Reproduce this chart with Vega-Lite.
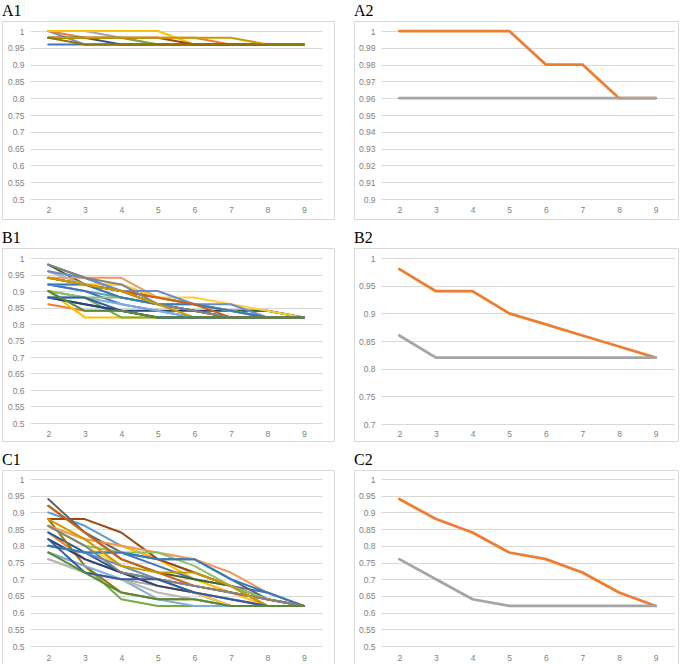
{
  "$schema": "https://vega.github.io/schema/vega-lite/v6.json",
  "padding": {"left": 1, "top": 2, "right": 0, "bottom": 0},
  "background": "white",
  "config": {
    "view": {"stroke": "#d9d9d9", "strokeWidth": 1},
    "title": {"font": "Liberation Serif", "fontSize": 16, "fontWeight": "normal", "anchor": "start", "offset": 2, "color": "#000000"},
    "axis": {"domain": false, "ticks": false, "tickSize": 0, "labelFont": "Liberation Sans", "labelFontSize": 8.5, "labelColor": "#7f7f7f", "gridColor": "#d9d9d9", "gridWidth": 1, "title": null, "labelPadding": 0},
    "line": {"strokeJoin": "round", "strokeCap": "round"}
  },
  "datasets": {
    "a1": [
      {"s":"S01","x":2,"v":1.00},{"s":"S01","x":3,"v":0.96},{"s":"S01","x":4,"v":0.96},{"s":"S01","x":5,"v":0.96},{"s":"S01","x":6,"v":0.96},{"s":"S01","x":7,"v":0.96},{"s":"S01","x":8,"v":0.96},{"s":"S01","x":9,"v":0.96},
      {"s":"S02","x":2,"v":1.00},{"s":"S02","x":3,"v":0.98},{"s":"S02","x":4,"v":0.98},{"s":"S02","x":5,"v":0.98},{"s":"S02","x":6,"v":0.98},{"s":"S02","x":7,"v":0.96},{"s":"S02","x":8,"v":0.96},{"s":"S02","x":9,"v":0.96},
      {"s":"S03","x":2,"v":1.00},{"s":"S03","x":3,"v":1.00},{"s":"S03","x":4,"v":0.98},{"s":"S03","x":5,"v":0.96},{"s":"S03","x":6,"v":0.96},{"s":"S03","x":7,"v":0.96},{"s":"S03","x":8,"v":0.96},{"s":"S03","x":9,"v":0.96},
      {"s":"S04","x":2,"v":1.00},{"s":"S04","x":3,"v":1.00},{"s":"S04","x":4,"v":1.00},{"s":"S04","x":5,"v":1.00},{"s":"S04","x":6,"v":0.96},{"s":"S04","x":7,"v":0.96},{"s":"S04","x":8,"v":0.96},{"s":"S04","x":9,"v":0.96},
      {"s":"S05","x":2,"v":0.96},{"s":"S05","x":3,"v":0.96},{"s":"S05","x":4,"v":0.96},{"s":"S05","x":5,"v":0.96},{"s":"S05","x":6,"v":0.96},{"s":"S05","x":7,"v":0.96},{"s":"S05","x":8,"v":0.96},{"s":"S05","x":9,"v":0.96},
      {"s":"S06","x":2,"v":0.98},{"s":"S06","x":3,"v":0.98},{"s":"S06","x":4,"v":0.98},{"s":"S06","x":5,"v":0.96},{"s":"S06","x":6,"v":0.96},{"s":"S06","x":7,"v":0.96},{"s":"S06","x":8,"v":0.96},{"s":"S06","x":9,"v":0.96},
      {"s":"S07","x":2,"v":0.98},{"s":"S07","x":3,"v":0.98},{"s":"S07","x":4,"v":0.96},{"s":"S07","x":5,"v":0.96},{"s":"S07","x":6,"v":0.96},{"s":"S07","x":7,"v":0.96},{"s":"S07","x":8,"v":0.96},{"s":"S07","x":9,"v":0.96},
      {"s":"S08","x":2,"v":0.98},{"s":"S08","x":3,"v":0.98},{"s":"S08","x":4,"v":0.98},{"s":"S08","x":5,"v":0.98},{"s":"S08","x":6,"v":0.96},{"s":"S08","x":7,"v":0.96},{"s":"S08","x":8,"v":0.96},{"s":"S08","x":9,"v":0.96},
      {"s":"S09","x":2,"v":0.98},{"s":"S09","x":3,"v":0.98},{"s":"S09","x":4,"v":0.98},{"s":"S09","x":5,"v":0.98},{"s":"S09","x":6,"v":0.98},{"s":"S09","x":7,"v":0.98},{"s":"S09","x":8,"v":0.96},{"s":"S09","x":9,"v":0.96},
      {"s":"S10","x":2,"v":0.98},{"s":"S10","x":3,"v":0.96},{"s":"S10","x":4,"v":0.96},{"s":"S10","x":5,"v":0.96},{"s":"S10","x":6,"v":0.96},{"s":"S10","x":7,"v":0.96},{"s":"S10","x":8,"v":0.96},{"s":"S10","x":9,"v":0.96}
    ],
    "a2": [
      {"s":"max","x":2,"v":1.00},{"s":"max","x":3,"v":1.00},{"s":"max","x":4,"v":1.00},{"s":"max","x":5,"v":1.00},{"s":"max","x":6,"v":0.98},{"s":"max","x":7,"v":0.98},{"s":"max","x":8,"v":0.96},{"s":"max","x":9,"v":0.96},
      {"s":"min","x":2,"v":0.96},{"s":"min","x":3,"v":0.96},{"s":"min","x":4,"v":0.96},{"s":"min","x":5,"v":0.96},{"s":"min","x":6,"v":0.96},{"s":"min","x":7,"v":0.96},{"s":"min","x":8,"v":0.96},{"s":"min","x":9,"v":0.96}
    ],
    "b1": [
      {"s":"S01","x":2,"v":0.92},{"s":"S01","x":3,"v":0.90},{"s":"S01","x":4,"v":0.88},{"s":"S01","x":5,"v":0.86},{"s":"S01","x":6,"v":0.84},{"s":"S01","x":7,"v":0.82},{"s":"S01","x":8,"v":0.82},{"s":"S01","x":9,"v":0.82},
      {"s":"S02","x":2,"v":0.86},{"s":"S02","x":3,"v":0.84},{"s":"S02","x":4,"v":0.84},{"s":"S02","x":5,"v":0.82},{"s":"S02","x":6,"v":0.82},{"s":"S02","x":7,"v":0.82},{"s":"S02","x":8,"v":0.82},{"s":"S02","x":9,"v":0.82},
      {"s":"S03","x":2,"v":0.96},{"s":"S03","x":3,"v":0.92},{"s":"S03","x":4,"v":0.90},{"s":"S03","x":5,"v":0.86},{"s":"S03","x":6,"v":0.84},{"s":"S03","x":7,"v":0.82},{"s":"S03","x":8,"v":0.82},{"s":"S03","x":9,"v":0.82},
      {"s":"S04","x":2,"v":0.90},{"s":"S04","x":3,"v":0.82},{"s":"S04","x":4,"v":0.82},{"s":"S04","x":5,"v":0.82},{"s":"S04","x":6,"v":0.82},{"s":"S04","x":7,"v":0.82},{"s":"S04","x":8,"v":0.82},{"s":"S04","x":9,"v":0.82},
      {"s":"S05","x":2,"v":0.92},{"s":"S05","x":3,"v":0.90},{"s":"S05","x":4,"v":0.86},{"s":"S05","x":5,"v":0.84},{"s":"S05","x":6,"v":0.82},{"s":"S05","x":7,"v":0.82},{"s":"S05","x":8,"v":0.82},{"s":"S05","x":9,"v":0.82},
      {"s":"S06","x":2,"v":0.90},{"s":"S06","x":3,"v":0.88},{"s":"S06","x":4,"v":0.82},{"s":"S06","x":5,"v":0.82},{"s":"S06","x":6,"v":0.82},{"s":"S06","x":7,"v":0.82},{"s":"S06","x":8,"v":0.82},{"s":"S06","x":9,"v":0.82},
      {"s":"S07","x":2,"v":0.88},{"s":"S07","x":3,"v":0.86},{"s":"S07","x":4,"v":0.84},{"s":"S07","x":5,"v":0.82},{"s":"S07","x":6,"v":0.82},{"s":"S07","x":7,"v":0.82},{"s":"S07","x":8,"v":0.82},{"s":"S07","x":9,"v":0.82},
      {"s":"S08","x":2,"v":0.94},{"s":"S08","x":3,"v":0.92},{"s":"S08","x":4,"v":0.90},{"s":"S08","x":5,"v":0.88},{"s":"S08","x":6,"v":0.86},{"s":"S08","x":7,"v":0.84},{"s":"S08","x":8,"v":0.82},{"s":"S08","x":9,"v":0.82},
      {"s":"S09","x":2,"v":0.98},{"s":"S09","x":3,"v":0.94},{"s":"S09","x":4,"v":0.90},{"s":"S09","x":5,"v":0.86},{"s":"S09","x":6,"v":0.84},{"s":"S09","x":7,"v":0.82},{"s":"S09","x":8,"v":0.82},{"s":"S09","x":9,"v":0.82},
      {"s":"S10","x":2,"v":0.94},{"s":"S10","x":3,"v":0.92},{"s":"S10","x":4,"v":0.88},{"s":"S10","x":5,"v":0.86},{"s":"S10","x":6,"v":0.84},{"s":"S10","x":7,"v":0.82},{"s":"S10","x":8,"v":0.82},{"s":"S10","x":9,"v":0.82},
      {"s":"S11","x":2,"v":0.88},{"s":"S11","x":3,"v":0.86},{"s":"S11","x":4,"v":0.84},{"s":"S11","x":5,"v":0.84},{"s":"S11","x":6,"v":0.84},{"s":"S11","x":7,"v":0.84},{"s":"S11","x":8,"v":0.84},{"s":"S11","x":9,"v":0.82},
      {"s":"S12","x":2,"v":0.98},{"s":"S12","x":3,"v":0.92},{"s":"S12","x":4,"v":0.90},{"s":"S12","x":5,"v":0.88},{"s":"S12","x":6,"v":0.86},{"s":"S12","x":7,"v":0.84},{"s":"S12","x":8,"v":0.84},{"s":"S12","x":9,"v":0.82},
      {"s":"S13","x":2,"v":0.88},{"s":"S13","x":3,"v":0.88},{"s":"S13","x":4,"v":0.86},{"s":"S13","x":5,"v":0.84},{"s":"S13","x":6,"v":0.82},{"s":"S13","x":7,"v":0.82},{"s":"S13","x":8,"v":0.82},{"s":"S13","x":9,"v":0.82},
      {"s":"S14","x":2,"v":0.94},{"s":"S14","x":3,"v":0.94},{"s":"S14","x":4,"v":0.94},{"s":"S14","x":5,"v":0.88},{"s":"S14","x":6,"v":0.86},{"s":"S14","x":7,"v":0.84},{"s":"S14","x":8,"v":0.82},{"s":"S14","x":9,"v":0.82},
      {"s":"S15","x":2,"v":0.96},{"s":"S15","x":3,"v":0.92},{"s":"S15","x":4,"v":0.92},{"s":"S15","x":5,"v":0.88},{"s":"S15","x":6,"v":0.86},{"s":"S15","x":7,"v":0.84},{"s":"S15","x":8,"v":0.82},{"s":"S15","x":9,"v":0.82},
      {"s":"S16","x":2,"v":0.92},{"s":"S16","x":3,"v":0.92},{"s":"S16","x":4,"v":0.92},{"s":"S16","x":5,"v":0.88},{"s":"S16","x":6,"v":0.88},{"s":"S16","x":7,"v":0.86},{"s":"S16","x":8,"v":0.84},{"s":"S16","x":9,"v":0.82},
      {"s":"S17","x":2,"v":0.96},{"s":"S17","x":3,"v":0.94},{"s":"S17","x":4,"v":0.90},{"s":"S17","x":5,"v":0.90},{"s":"S17","x":6,"v":0.86},{"s":"S17","x":7,"v":0.86},{"s":"S17","x":8,"v":0.82},{"s":"S17","x":9,"v":0.82},
      {"s":"S18","x":2,"v":0.90},{"s":"S18","x":3,"v":0.88},{"s":"S18","x":4,"v":0.88},{"s":"S18","x":5,"v":0.86},{"s":"S18","x":6,"v":0.86},{"s":"S18","x":7,"v":0.84},{"s":"S18","x":8,"v":0.82},{"s":"S18","x":9,"v":0.82},
      {"s":"S19","x":2,"v":0.92},{"s":"S19","x":3,"v":0.92},{"s":"S19","x":4,"v":0.88},{"s":"S19","x":5,"v":0.86},{"s":"S19","x":6,"v":0.86},{"s":"S19","x":7,"v":0.84},{"s":"S19","x":8,"v":0.82},{"s":"S19","x":9,"v":0.82},
      {"s":"S20","x":2,"v":0.94},{"s":"S20","x":3,"v":0.92},{"s":"S20","x":4,"v":0.90},{"s":"S20","x":5,"v":0.88},{"s":"S20","x":6,"v":0.86},{"s":"S20","x":7,"v":0.82},{"s":"S20","x":8,"v":0.82},{"s":"S20","x":9,"v":0.82},
      {"s":"S21","x":2,"v":0.98},{"s":"S21","x":3,"v":0.94},{"s":"S21","x":4,"v":0.92},{"s":"S21","x":5,"v":0.86},{"s":"S21","x":6,"v":0.84},{"s":"S21","x":7,"v":0.82},{"s":"S21","x":8,"v":0.82},{"s":"S21","x":9,"v":0.82},
      {"s":"S22","x":2,"v":0.94},{"s":"S22","x":3,"v":0.92},{"s":"S22","x":4,"v":0.90},{"s":"S22","x":5,"v":0.86},{"s":"S22","x":6,"v":0.82},{"s":"S22","x":7,"v":0.82},{"s":"S22","x":8,"v":0.82},{"s":"S22","x":9,"v":0.82},
      {"s":"S23","x":2,"v":0.88},{"s":"S23","x":3,"v":0.88},{"s":"S23","x":4,"v":0.84},{"s":"S23","x":5,"v":0.82},{"s":"S23","x":6,"v":0.82},{"s":"S23","x":7,"v":0.82},{"s":"S23","x":8,"v":0.82},{"s":"S23","x":9,"v":0.82},
      {"s":"S24","x":2,"v":0.90},{"s":"S24","x":3,"v":0.84},{"s":"S24","x":4,"v":0.84},{"s":"S24","x":5,"v":0.82},{"s":"S24","x":6,"v":0.82},{"s":"S24","x":7,"v":0.82},{"s":"S24","x":8,"v":0.82},{"s":"S24","x":9,"v":0.82}
    ],
    "b2": [
      {"s":"max","x":2,"v":0.98},{"s":"max","x":3,"v":0.94},{"s":"max","x":4,"v":0.94},{"s":"max","x":5,"v":0.90},{"s":"max","x":6,"v":0.88},{"s":"max","x":7,"v":0.86},{"s":"max","x":8,"v":0.84},{"s":"max","x":9,"v":0.82},
      {"s":"min","x":2,"v":0.86},{"s":"min","x":3,"v":0.82},{"s":"min","x":4,"v":0.82},{"s":"min","x":5,"v":0.82},{"s":"min","x":6,"v":0.82},{"s":"min","x":7,"v":0.82},{"s":"min","x":8,"v":0.82},{"s":"min","x":9,"v":0.82}
    ],
    "c1": [
      {"s":"S01","x":2,"v":0.90},{"s":"S01","x":3,"v":0.86},{"s":"S01","x":4,"v":0.80},{"s":"S01","x":5,"v":0.76},{"s":"S01","x":6,"v":0.72},{"s":"S01","x":7,"v":0.68},{"s":"S01","x":8,"v":0.64},{"s":"S01","x":9,"v":0.62},
      {"s":"S02","x":2,"v":0.84},{"s":"S02","x":3,"v":0.76},{"s":"S02","x":4,"v":0.72},{"s":"S02","x":5,"v":0.68},{"s":"S02","x":6,"v":0.66},{"s":"S02","x":7,"v":0.64},{"s":"S02","x":8,"v":0.62},{"s":"S02","x":9,"v":0.62},
      {"s":"S03","x":2,"v":0.76},{"s":"S03","x":3,"v":0.72},{"s":"S03","x":4,"v":0.70},{"s":"S03","x":5,"v":0.68},{"s":"S03","x":6,"v":0.66},{"s":"S03","x":7,"v":0.64},{"s":"S03","x":8,"v":0.62},{"s":"S03","x":9,"v":0.62},
      {"s":"S04","x":2,"v":0.86},{"s":"S04","x":3,"v":0.82},{"s":"S04","x":4,"v":0.80},{"s":"S04","x":5,"v":0.76},{"s":"S04","x":6,"v":0.70},{"s":"S04","x":7,"v":0.66},{"s":"S04","x":8,"v":0.62},{"s":"S04","x":9,"v":0.62},
      {"s":"S05","x":2,"v":0.80},{"s":"S05","x":3,"v":0.78},{"s":"S05","x":4,"v":0.78},{"s":"S05","x":5,"v":0.74},{"s":"S05","x":6,"v":0.70},{"s":"S05","x":7,"v":0.68},{"s":"S05","x":8,"v":0.66},{"s":"S05","x":9,"v":0.62},
      {"s":"S06","x":2,"v":0.78},{"s":"S06","x":3,"v":0.74},{"s":"S06","x":4,"v":0.64},{"s":"S06","x":5,"v":0.62},{"s":"S06","x":6,"v":0.62},{"s":"S06","x":7,"v":0.62},{"s":"S06","x":8,"v":0.62},{"s":"S06","x":9,"v":0.62},
      {"s":"S07","x":2,"v":0.84},{"s":"S07","x":3,"v":0.78},{"s":"S07","x":4,"v":0.72},{"s":"S07","x":5,"v":0.70},{"s":"S07","x":6,"v":0.68},{"s":"S07","x":7,"v":0.66},{"s":"S07","x":8,"v":0.64},{"s":"S07","x":9,"v":0.62},
      {"s":"S08","x":2,"v":0.88},{"s":"S08","x":3,"v":0.88},{"s":"S08","x":4,"v":0.84},{"s":"S08","x":5,"v":0.76},{"s":"S08","x":6,"v":0.72},{"s":"S08","x":7,"v":0.68},{"s":"S08","x":8,"v":0.64},{"s":"S08","x":9,"v":0.62},
      {"s":"S09","x":2,"v":0.94},{"s":"S09","x":3,"v":0.84},{"s":"S09","x":4,"v":0.78},{"s":"S09","x":5,"v":0.76},{"s":"S09","x":6,"v":0.76},{"s":"S09","x":7,"v":0.70},{"s":"S09","x":8,"v":0.64},{"s":"S09","x":9,"v":0.62},
      {"s":"S10","x":2,"v":0.88},{"s":"S10","x":3,"v":0.74},{"s":"S10","x":4,"v":0.66},{"s":"S10","x":5,"v":0.64},{"s":"S10","x":6,"v":0.64},{"s":"S10","x":7,"v":0.62},{"s":"S10","x":8,"v":0.62},{"s":"S10","x":9,"v":0.62},
      {"s":"S11","x":2,"v":0.82},{"s":"S11","x":3,"v":0.76},{"s":"S11","x":4,"v":0.72},{"s":"S11","x":5,"v":0.68},{"s":"S11","x":6,"v":0.66},{"s":"S11","x":7,"v":0.62},{"s":"S11","x":8,"v":0.62},{"s":"S11","x":9,"v":0.62},
      {"s":"S12","x":2,"v":0.92},{"s":"S12","x":3,"v":0.84},{"s":"S12","x":4,"v":0.76},{"s":"S12","x":5,"v":0.72},{"s":"S12","x":6,"v":0.70},{"s":"S12","x":7,"v":0.68},{"s":"S12","x":8,"v":0.62},{"s":"S12","x":9,"v":0.62},
      {"s":"S13","x":2,"v":0.78},{"s":"S13","x":3,"v":0.74},{"s":"S13","x":4,"v":0.70},{"s":"S13","x":5,"v":0.64},{"s":"S13","x":6,"v":0.62},{"s":"S13","x":7,"v":0.62},{"s":"S13","x":8,"v":0.62},{"s":"S13","x":9,"v":0.62},
      {"s":"S14","x":2,"v":0.86},{"s":"S14","x":3,"v":0.82},{"s":"S14","x":4,"v":0.80},{"s":"S14","x":5,"v":0.78},{"s":"S14","x":6,"v":0.76},{"s":"S14","x":7,"v":0.72},{"s":"S14","x":8,"v":0.66},{"s":"S14","x":9,"v":0.62},
      {"s":"S15","x":2,"v":0.76},{"s":"S15","x":3,"v":0.72},{"s":"S15","x":4,"v":0.70},{"s":"S15","x":5,"v":0.66},{"s":"S15","x":6,"v":0.64},{"s":"S15","x":7,"v":0.62},{"s":"S15","x":8,"v":0.62},{"s":"S15","x":9,"v":0.62},
      {"s":"S16","x":2,"v":0.86},{"s":"S16","x":3,"v":0.80},{"s":"S16","x":4,"v":0.74},{"s":"S16","x":5,"v":0.70},{"s":"S16","x":6,"v":0.66},{"s":"S16","x":7,"v":0.62},{"s":"S16","x":8,"v":0.62},{"s":"S16","x":9,"v":0.62},
      {"s":"S17","x":2,"v":0.80},{"s":"S17","x":3,"v":0.78},{"s":"S17","x":4,"v":0.74},{"s":"S17","x":5,"v":0.70},{"s":"S17","x":6,"v":0.68},{"s":"S17","x":7,"v":0.66},{"s":"S17","x":8,"v":0.64},{"s":"S17","x":9,"v":0.62},
      {"s":"S18","x":2,"v":0.86},{"s":"S18","x":3,"v":0.80},{"s":"S18","x":4,"v":0.78},{"s":"S18","x":5,"v":0.78},{"s":"S18","x":6,"v":0.74},{"s":"S18","x":7,"v":0.68},{"s":"S18","x":8,"v":0.64},{"s":"S18","x":9,"v":0.62},
      {"s":"S19","x":2,"v":0.80},{"s":"S19","x":3,"v":0.78},{"s":"S19","x":4,"v":0.78},{"s":"S19","x":5,"v":0.76},{"s":"S19","x":6,"v":0.76},{"s":"S19","x":7,"v":0.70},{"s":"S19","x":8,"v":0.66},{"s":"S19","x":9,"v":0.62},
      {"s":"S20","x":2,"v":0.92},{"s":"S20","x":3,"v":0.84},{"s":"S20","x":4,"v":0.76},{"s":"S20","x":5,"v":0.72},{"s":"S20","x":6,"v":0.68},{"s":"S20","x":7,"v":0.66},{"s":"S20","x":8,"v":0.64},{"s":"S20","x":9,"v":0.62},
      {"s":"S21","x":2,"v":0.86},{"s":"S21","x":3,"v":0.80},{"s":"S21","x":4,"v":0.72},{"s":"S21","x":5,"v":0.70},{"s":"S21","x":6,"v":0.68},{"s":"S21","x":7,"v":0.66},{"s":"S21","x":8,"v":0.64},{"s":"S21","x":9,"v":0.62},
      {"s":"S22","x":2,"v":0.88},{"s":"S22","x":3,"v":0.82},{"s":"S22","x":4,"v":0.74},{"s":"S22","x":5,"v":0.72},{"s":"S22","x":6,"v":0.72},{"s":"S22","x":7,"v":0.68},{"s":"S22","x":8,"v":0.62},{"s":"S22","x":9,"v":0.62},
      {"s":"S23","x":2,"v":0.82},{"s":"S23","x":3,"v":0.72},{"s":"S23","x":4,"v":0.70},{"s":"S23","x":5,"v":0.70},{"s":"S23","x":6,"v":0.66},{"s":"S23","x":7,"v":0.64},{"s":"S23","x":8,"v":0.62},{"s":"S23","x":9,"v":0.62},
      {"s":"S24","x":2,"v":0.78},{"s":"S24","x":3,"v":0.72},{"s":"S24","x":4,"v":0.66},{"s":"S24","x":5,"v":0.64},{"s":"S24","x":6,"v":0.64},{"s":"S24","x":7,"v":0.62},{"s":"S24","x":8,"v":0.62},{"s":"S24","x":9,"v":0.62}
    ],
    "c2": [
      {"s":"max","x":2,"v":0.94},{"s":"max","x":3,"v":0.88},{"s":"max","x":4,"v":0.84},{"s":"max","x":5,"v":0.78},{"s":"max","x":6,"v":0.76},{"s":"max","x":7,"v":0.72},{"s":"max","x":8,"v":0.66},{"s":"max","x":9,"v":0.62},
      {"s":"min","x":2,"v":0.76},{"s":"min","x":3,"v":0.70},{"s":"min","x":4,"v":0.64},{"s":"min","x":5,"v":0.62},{"s":"min","x":6,"v":0.62},{"s":"min","x":7,"v":0.62},{"s":"min","x":8,"v":0.62},{"s":"min","x":9,"v":0.62}
    ]
  },
  "spacing": 9,
  "resolve": {"scale": {"color": "independent"}},
  "vconcat": [
    {
      "spacing": 18,
      "resolve": {"scale": {"color": "independent"}},
      "hconcat": [
        {
          "title": "A1", "width": 332, "height": 198,
          "data": {"name": "a1"},
          "mark": {"type": "line", "strokeWidth": 2},
          "encoding": {
            "x": {"field": "x", "type": "quantitative", "scale": {"domain": [1.5, 9.5], "range": [28, 320], "nice": false, "zero": false}, "axis": {"values": [2,3,4,5,6,7,8,9], "format": "d", "grid": false, "offset": -10, "labelBaseline": "middle"}},
            "y": {"field": "v", "type": "quantitative", "scale": {"domain": [0.5, 1], "range": [178, 10], "nice": false, "zero": false}, "axis": {"values": [0.5,0.55,0.6,0.65,0.7,0.75,0.8,0.85,0.9,0.95,1], "format": "~g", "offset": -22}},
            "color": {"field": "s", "type": "nominal", "legend": null, "scale": {"range": ["#5B9BD5","#ED7D31","#A5A5A5","#FFC000","#4472C4","#70AD47","#255E91","#9E480E","#CC9A00","#997300"]}}
          }
        },
        {
          "title": "A2", "width": 324, "height": 198,
          "data": {"name": "a2"},
          "mark": {"type": "line", "strokeWidth": 2.75},
          "encoding": {
            "x": {"field": "x", "type": "quantitative", "scale": {"domain": [1.5, 9.5], "range": [27, 320], "nice": false, "zero": false}, "axis": {"values": [2,3,4,5,6,7,8,9], "format": "d", "grid": false, "offset": -10, "labelBaseline": "middle"}},
            "y": {"field": "v", "type": "quantitative", "scale": {"domain": [0.9, 1], "range": [178, 10], "nice": false, "zero": false}, "axis": {"values": [0.9,0.91,0.92,0.93,0.94,0.95,0.96,0.97,0.98,0.99,1], "format": "~g", "offset": -21}},
            "color": {"field": "s", "type": "nominal", "legend": null, "scale": {"domain": ["max","min"], "range": ["#ED7D31","#A5A5A5"]}}
          }
        }
      ]
    },
    {
      "spacing": 18,
      "resolve": {"scale": {"color": "independent"}},
      "hconcat": [
        {
          "title": "B1", "width": 332, "height": 193,
          "data": {"name": "b1"},
          "mark": {"type": "line", "strokeWidth": 2},
          "encoding": {
            "x": {"field": "x", "type": "quantitative", "scale": {"domain": [1.5, 9.5], "range": [28, 320], "nice": false, "zero": false}, "axis": {"values": [2,3,4,5,6,7,8,9], "format": "d", "grid": false, "offset": -8, "labelBaseline": "middle"}},
            "y": {"field": "v", "type": "quantitative", "scale": {"domain": [0.5, 1], "range": [175, 10], "nice": false, "zero": false}, "axis": {"values": [0.5,0.55,0.6,0.65,0.7,0.75,0.8,0.85,0.9,0.95,1], "format": "~g", "offset": -22}},
            "color": {"field": "s", "type": "nominal", "legend": null, "scale": {"range": ["#5B9BD5","#ED7D31","#A5A5A5","#FFC000","#4472C4","#70AD47","#255E91","#9E480E","#636363","#997300","#264478","#43682B","#7CAFDD","#F1975A","#B7B7B7","#FFCD33","#698ED0","#8CC168","#327DC2","#D26012","#848484","#CC9A00","#335AA1","#5A8A39"]}}
          }
        },
        {
          "title": "B2", "width": 324, "height": 193,
          "data": {"name": "b2"},
          "mark": {"type": "line", "strokeWidth": 2.75},
          "encoding": {
            "x": {"field": "x", "type": "quantitative", "scale": {"domain": [1.5, 9.5], "range": [27, 320], "nice": false, "zero": false}, "axis": {"values": [2,3,4,5,6,7,8,9], "format": "d", "grid": false, "offset": -8, "labelBaseline": "middle"}},
            "y": {"field": "v", "type": "quantitative", "scale": {"domain": [0.7, 1], "range": [176, 10], "nice": false, "zero": false}, "axis": {"values": [0.7,0.75,0.8,0.85,0.9,0.95,1], "format": "~g", "offset": -21}},
            "color": {"field": "s", "type": "nominal", "legend": null, "scale": {"domain": ["max","min"], "range": ["#ED7D31","#A5A5A5"]}}
          }
        }
      ]
    },
    {
      "spacing": 18,
      "resolve": {"scale": {"color": "independent"}},
      "hconcat": [
        {
          "title": "C1", "width": 332, "height": 197,
          "data": {"name": "c1"},
          "mark": {"type": "line", "strokeWidth": 2},
          "encoding": {
            "x": {"field": "x", "type": "quantitative", "scale": {"domain": [1.5, 9.5], "range": [28, 320], "nice": false, "zero": false}, "axis": {"values": [2,3,4,5,6,7,8,9], "format": "d", "grid": false, "offset": -10, "labelBaseline": "middle"}},
            "y": {"field": "v", "type": "quantitative", "scale": {"domain": [0.5, 1], "range": [176, 9], "nice": false, "zero": false}, "axis": {"values": [0.5,0.55,0.6,0.65,0.7,0.75,0.8,0.85,0.9,0.95,1], "format": "~g", "offset": -22}},
            "color": {"field": "s", "type": "nominal", "legend": null, "scale": {"range": ["#5B9BD5","#ED7D31","#A5A5A5","#FFC000","#4472C4","#70AD47","#255E91","#9E480E","#636363","#997300","#264478","#43682B","#7CAFDD","#F1975A","#B7B7B7","#FFCD33","#698ED0","#8CC168","#327DC2","#D26012","#848484","#CC9A00","#335AA1","#5A8A39"]}}
          }
        },
        {
          "title": "C2", "width": 324, "height": 197,
          "data": {"name": "c2"},
          "mark": {"type": "line", "strokeWidth": 2.75},
          "encoding": {
            "x": {"field": "x", "type": "quantitative", "scale": {"domain": [1.5, 9.5], "range": [27, 320], "nice": false, "zero": false}, "axis": {"values": [2,3,4,5,6,7,8,9], "format": "d", "grid": false, "offset": -10, "labelBaseline": "middle"}},
            "y": {"field": "v", "type": "quantitative", "scale": {"domain": [0.5, 1], "range": [176, 9], "nice": false, "zero": false}, "axis": {"values": [0.5,0.55,0.6,0.65,0.7,0.75,0.8,0.85,0.9,0.95,1], "format": "~g", "offset": -21}},
            "color": {"field": "s", "type": "nominal", "legend": null, "scale": {"domain": ["max","min"], "range": ["#ED7D31","#A5A5A5"]}}
          }
        }
      ]
    }
  ]
}
